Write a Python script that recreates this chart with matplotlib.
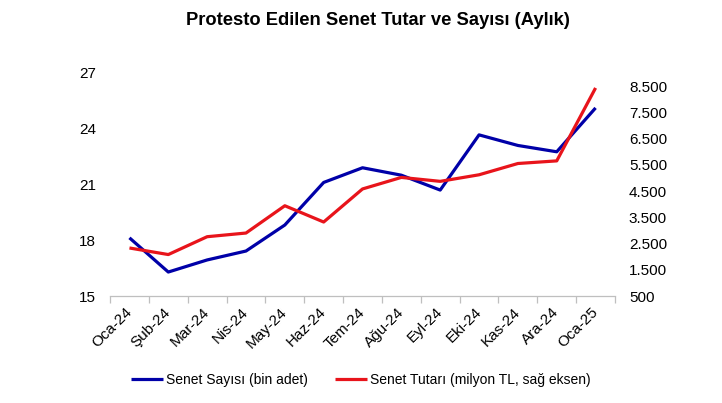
import matplotlib
matplotlib.use("Agg")
import matplotlib.pyplot as plt
import numpy as np

plt.rcParams['font.family'] = ['Liberation Sans', 'DejaVu Sans']

categories = ["Oca-24", "Şub-24", "Mar-24", "Nis-24", "May-24", "Haz-24", "Tem-24",
              "Ağu-24", "Eyl-24", "Eki-24", "Kas-24", "Ara-24", "Oca-25"]
senet_sayisi = [18.13, 16.29, 16.94, 17.42, 18.82, 21.11, 21.9, 21.5, 20.7, 23.67, 23.1, 22.76, 25.12]
senet_tutari = [2330, 2080, 2760, 2900, 3940, 3320, 4580, 5020, 4870, 5120, 5550, 5650, 8430]
left_ticks = [15, 18, 21, 24, 27]
right_ticks = [500, 1500, 2500, 3500, 4500, 5500, 6500, 7500, 8500]
right_tick_labels = ["500", "1.500", "2.500", "3.500", "4.500", "5.500", "6.500", "7.500", "8.500"]

fig = plt.figure(figsize=(7.22, 4.03), dpi=100)
ax = fig.add_axes([0.1524, 0.2655, 0.6994, 0.5534])
ax2 = ax.twinx()

x = np.arange(len(categories))
blue = '#0000A8'
red = '#E8141B'
l1, = ax.plot(x, senet_sayisi, color=blue, lw=2.3, label='Senet Sayısı (bin adet)', solid_capstyle='butt')
l2, = ax2.plot(x, senet_tutari, color=red, lw=2.3, label='Senet Tutarı (milyon TL, sağ eksen)', solid_capstyle='butt')

ax.set_xlim(-0.5, len(categories) - 0.5)
ax.set_ylim(15, 27)
ax2.set_ylim(500, 9000)
ax.set_yticks(left_ticks)
ax.set_yticklabels([str(t) for t in left_ticks], fontsize=11)
ax2.set_yticks(right_ticks)
ax2.set_yticklabels(right_tick_labels, fontsize=11)

for a in (ax, ax2):
    for s in ['top', 'left', 'right']:
        a.spines[s].set_visible(False)
ax2.spines['bottom'].set_visible(False)
ax.spines['bottom'].set_color('#BFBFBF')
ax.spines['bottom'].set_linewidth(0.9)

ax.tick_params(axis='y', length=0, pad=10)
ax2.tick_params(axis='y', length=0, pad=10)

ax.set_xticks(x)
ax.set_xticklabels(categories, rotation=45, ha='right', va='center', rotation_mode='anchor', fontsize=11)
ax.tick_params(axis='x', which='major', length=0, pad=10)
ax.set_xticks(np.arange(-0.5, len(categories)), minor=True)
ax.tick_params(axis='x', which='minor', length=5, color='#BFBFBF', width=0.9)

fig.text(0.523, 0.948, 'Protesto Edilen Senet Tutar ve Sayısı (Aylık)', ha='center', va='center',
         fontsize=13.2, fontweight='bold')

fig.legend(handles=[l1, l2], loc='center', bbox_to_anchor=(0.5, 0.057), ncol=2, frameon=False,
           fontsize=10, handlelength=2.3, handletextpad=0.2, columnspacing=1.95)

fig.savefig('out.png', dpi=100)
